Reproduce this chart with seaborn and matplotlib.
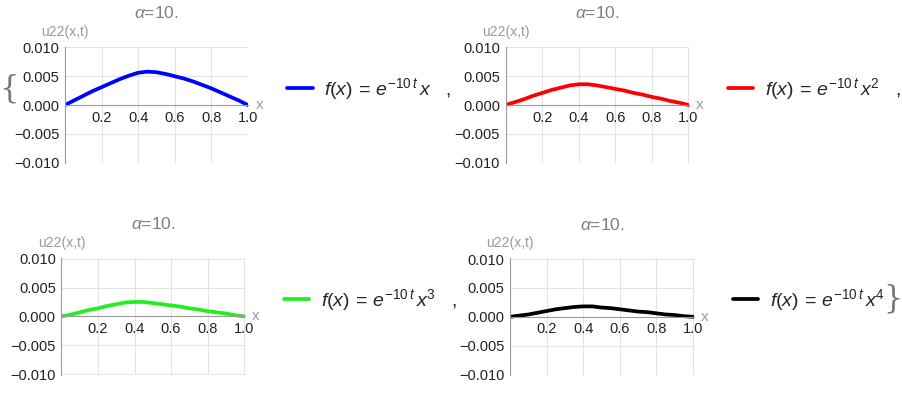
import numpy as np
import pandas as pd
from matplotlib import pyplot as plt
from matplotlib.ticker import MultipleLocator
import seaborn as sns

# values
x = [0.0, 0.05, 0.1, 0.15, 0.2, 0.25, 0.3, 0.35, 0.4, 0.45, 0.5,
     0.55, 0.6, 0.65, 0.7, 0.75, 0.8, 0.85, 0.9, 0.95, 1.0]
u_x1 = [0, .0008, .0016, .0024, .0031, .0038, .0045, .0051, .0056, .0058, .0057,
        .0054, .0050, .0046, .0041, .0035, .0029, .0022, .0015, .0008, 0]
u_x2 = [0, .0005, .0010, .0016, .0021, .0026, .0030, .0034, .0036, .0036, .0034,
        .0031, .0028, .0025, .0021, .0018, .0014, .0011, .0007, .0004, 0]
u_x3 = [0, .0003, .0007, .0011, .0014, .0018, .0021, .0024, .0025, .0025, .0023,
        .0021, .0019, .0017, .0014, .0012, .0009, .0007, .0005, .0002, 0]
u_x4 = [0, .0002, .0004, .0007, .0010, .0013, .0015, .0017, .0018, .0018, .0016,
        .0015, .0013, .0011, .0009, .0008, .0006, .0004, .0003, .0001, 0]

labels = [r"$f(x)\,=\,e^{-10\,t}\,x$   ,",
          r"$f(x)\,=\,e^{-10\,t}\,x^2$   ,",
          r"$f(x)\,=\,e^{-10\,t}\,x^3$   ,",
          r"$f(x)\,=\,e^{-10\,t}\,x^4$"]
colors = ["#0000ff", "#ff0000", "#22ee22", "#000000"]
title = r"$\alpha$=10."

sns.set_style("white")
plt.rcParams["font.family"] = ["Liberation Sans", "DejaVu Sans"]
plt.rcParams["mathtext.fontset"] = "custom"
plt.rcParams["mathtext.rm"] = "Liberation Sans"
plt.rcParams["mathtext.it"] = "Liberation Sans:italic"

fig = plt.figure(figsize=(9.03, 3.94), dpi=100)

# [left, bottom, width, height] in figure fraction, and legend anchor y
boxes = [[0.072, 0.586, 0.203, 0.295, 0.774],
         [0.560, 0.586, 0.203, 0.295, 0.774],
         [0.068, 0.049, 0.203, 0.296, 0.239],
         [0.565, 0.048, 0.203, 0.296, 0.239]]

grey = "#999999"
for yv, lab, col, b in zip([u_x1, u_x2, u_x3, u_x4], labels, colors, boxes):
    ax = fig.add_axes(b[:4])
    df = pd.DataFrame({"x": x, "u": yv})
    sns.lineplot(data=df, x="x", y="u", color=col, lw=2.7, ax=ax, label=lab)
    ax.set_xlim(0, 1.003)
    ax.set_ylim(-0.0101, 0.0101)
    ax.set_xticks([0.2, 0.4, 0.6, 0.8, 1.0])
    ax.set_xticklabels(["0.2", "0.4", "0.6", "0.8", "1.0"])
    ax.set_yticks([-0.01, -0.005, 0, 0.005, 0.01])
    ax.set_yticklabels(["\u22120.010", "\u22120.005", "0.000", "0.005", "0.010"])
    ax.xaxis.set_minor_locator(MultipleLocator(0.05))
    ax.yaxis.set_minor_locator(MultipleLocator(0.001))
    for v in [0.2, 0.4, 0.6, 0.8, 1.0]:
        ax.axvline(v, color="#e3e3e3", lw=0.8, zorder=0)
    for v in [-0.01, -0.005, 0.005, 0.01]:
        ax.axhline(v, color="#e3e3e3", lw=0.8, zorder=0)
    for s in ["top", "right"]:
        ax.spines[s].set_visible(False)
    ax.spines["bottom"].set_position(("data", 0))
    ax.spines["bottom"].set_color(grey)
    ax.spines["left"].set_color(grey)
    ax.spines["bottom"].set_linewidth(0.8)
    ax.spines["left"].set_linewidth(0.8)
    ax.tick_params(axis="both", which="major", direction="in", length=4,
                   color=grey, labelsize=10.5, labelcolor="#222222", pad=4)
    ax.tick_params(axis="both", which="minor", direction="in", length=2, color=grey)
    ax.set_xlabel("")
    ax.set_ylabel("")
    ax.text(1.06, 0.5, "x", transform=ax.transAxes, color=grey, fontsize=11,
            ha="center", va="center")
    ax.text(0.0, 1.07, "u22(x,t)", transform=ax.transAxes, color=grey, fontsize=10,
            ha="center", va="bottom")
    ax.text(0.5, 1.22, title, transform=ax.transAxes, color="#808080", fontsize=12.5,
            ha="center", va="bottom")
    ax.legend(loc="center left", frameon=False, fontsize=14,
              handlelength=1.3, handletextpad=0.6)
    leg = ax.get_legend()
    leg.set_bbox_to_anchor((b[0] + b[2] + 0.024, b[4]), transform=fig.transFigure)

fig.text(0.010, 0.773, "{", fontsize=22, color="#777777", ha="center", va="center",
         family="DejaVu Serif")
fig.text(0.989, 0.24, "}", fontsize=22, color="#777777", ha="center", va="center",
         family="DejaVu Serif")

plt.savefig("out.png", dpi=100)
